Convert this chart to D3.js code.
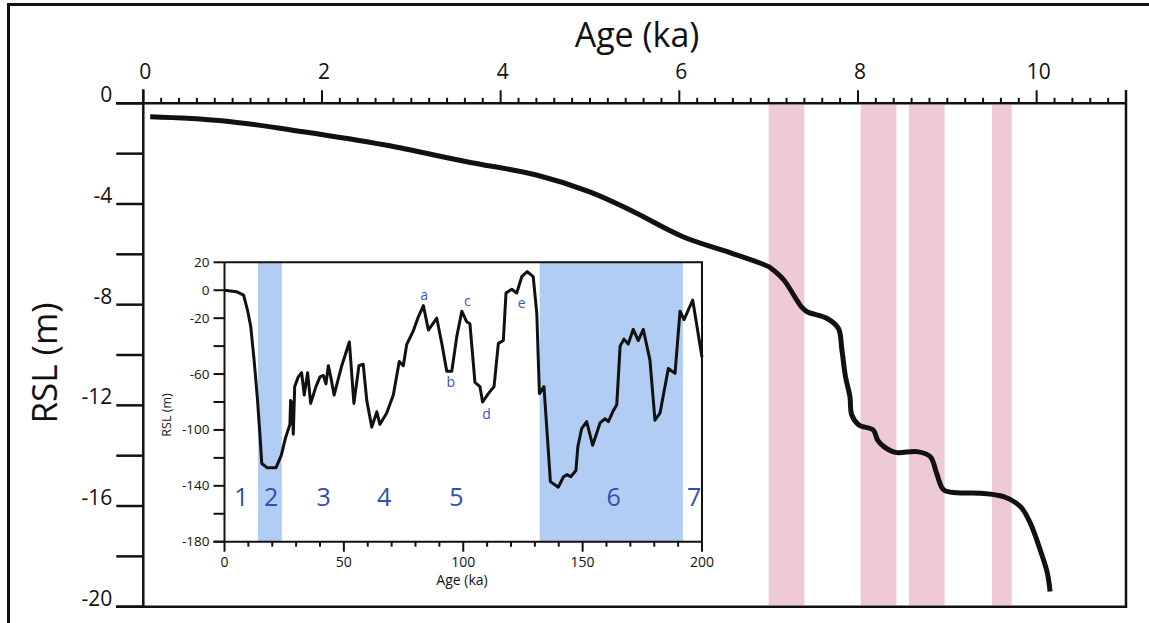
<!DOCTYPE html>
<html>
<head>
<meta charset="utf-8">
<script src="https://cdn.jsdelivr.net/npm/d3@7"></script>
<style>
  body { margin: 0; background: #fff; }
  svg { display: block; font-family: "Open Sans", sans-serif; }
</style>
</head>
<body>
<svg id="chart" width="1149" height="623"></svg>
<script>
// ---- Holocene relative sea level (main panel) ----
const rslAge   = [0.077, 0.88, 1.79, 2.71, 3.62, 4.40, 4.99, 5.45, 6.04, 6.59, 7.00, 7.05, 7.17, 7.37, 7.43, 7.65, 7.78, 7.82, 7.86, 7.91, 7.93, 8.01, 8.17, 8.22, 8.29, 8.42, 8.66, 8.81, 8.88, 8.96, 9.11, 9.37, 9.63, 9.82, 9.93, 10.04, 10.12, 10.15];
const rslDepth = [-0.53, -0.69, -1.13, -1.66, -2.32, -2.85, -3.51, -4.24, -5.30, -5.96, -6.49, -6.62, -7.02, -8.10, -8.28, -8.54, -8.94, -9.80, -10.86, -11.66, -12.38, -12.78, -12.98, -13.38, -13.64, -13.87, -13.84, -14.04, -14.70, -15.36, -15.47, -15.49, -15.63, -16.03, -16.69, -17.75, -18.67, -19.40];

// shaded intervals (ka)
const bandStart = [7.0, 8.03, 8.57, 9.5];
const bandEnd   = [7.4, 8.43, 8.97, 9.72];

const mainAgeTicks = [0, 2, 4, 6, 8, 10];
const mainRslTicks = [0, -4, -8, -12, -16, -20];

// ---- Inset: sea level over the last 200 ka ----
const insetAge = [0, 5, 8, 9.6, 11, 12.4, 13.8, 14.9, 15.6, 17.8, 21.6, 23.8, 25.5, 27.4, 27.7, 28.4, 28.8, 29.4, 30.9, 32.3, 33.4, 34.8, 36.1, 38.3, 40, 41.4, 42.5, 43.5, 44.5, 45.9, 49.1, 52.3, 54.2, 56.3, 58.1, 59.6, 61.7, 63.8, 65.1, 67.9, 70.7, 73.2, 74.9, 76.3, 79.1, 81.2, 83.3, 85.4, 88.9, 91, 93.1, 95.2, 97.3, 99.4, 101.4, 102.8, 104.9, 107, 108.1, 110.5, 112.9, 114.7, 116.8, 117.9, 120.3, 122.4, 124.5, 126.8, 129.3, 130.8, 131.9, 133.8, 135.6, 136.5, 139.8, 142, 143.5, 145, 147.2, 148, 149.6, 151.7, 154.2, 157.3, 159.4, 160.8, 162.9, 164.3, 165.7, 167.3, 169.1, 171.2, 173.3, 175.4, 178.2, 180.3, 182.4, 185.9, 188.7, 190.8, 192.5, 196.1, 200];
const insetRsl = [0, -1, -3.5, -14, -26, -50, -78, -105, -124, -127, -127, -118, -106, -96, -79, -81, -103, -69, -62, -59, -75, -59, -81, -69, -62, -61, -67, -54, -62, -75, -54, -37, -81, -54, -53, -79, -98, -87, -96, -88, -75, -51, -54, -39, -29, -19, -11, -28.5, -20, -38, -58, -58, -33, -15, -22.5, -24, -66, -69, -80, -74, -69, -38, -36, -2, 0.7, -2, 9.7, 13.3, 9.7, -16.5, -74, -69, -114, -137, -141, -133.5, -132, -133.5, -129, -112, -99, -94, -111, -95, -92, -94, -86, -82, -40, -35, -38.5, -28, -36, -28, -50, -93, -88, -56, -59.5, -15, -21, -7, -48];

// glacial stages shaded in the inset (ka)
const glacialStart = [14, 132];
const glacialEnd   = [24, 192];

// marine isotope stage numbers
const stageLabels = ["1", "2", "3", "4", "5", "6", "7"];
const stageAge    = [7.1, 19.5, 41.5, 66.9, 97.1, 163, 196.7];

// named highstands / lowstands of stage 5
const peakLabels = ["a", "b", "c", "d", "e"];
const peakAge    = [83.6, 94.8, 101.7, 109.8, 124.5];
const peakRsl    = [-3.3, -65.5, -7, -88, -9];

const insetAgeTicks = [0, 50, 100, 150, 200];
const insetRslTicks = [20, 0, -20, -60, -100, -140, -180];

// ---------------------------------------------------------------
const svg = d3.select("#chart");
const ink = "#111";

// outer frame (top and left edges)
svg.append("line").attr("x1", 8).attr("x2", 1149).attr("y1", 4.5).attr("y2", 4.5)
  .attr("stroke", ink).attr("stroke-width", 3);
svg.append("line").attr("x1", 8.5).attr("x2", 8.5).attr("y1", 3).attr("y2", 623)
  .attr("stroke", ink).attr("stroke-width", 3);

// main scales
const x = d3.scaleLinear().domain([0, 11]).range([143.3, 1126]);
const y = d3.scaleLinear().domain([0, -20]).range([103.3, 606.7]);

// shaded bands
svg.append("g").selectAll("rect").data(bandStart).join("rect")
  .attr("x", (d) => x(d))
  .attr("width", (d, i) => x(bandEnd[i]) - x(d))
  .attr("y", y(0) + 1.5)
  .attr("height", y(-20) - y(0) - 3)
  .attr("fill", "#eecad6");

// box: bottom and right
svg.append("line").attr("x1", 116).attr("x2", x(11)).attr("y1", y(-20)).attr("y2", y(-20))
  .attr("stroke", ink).attr("stroke-width", 2.5);
svg.append("line").attr("x1", x(11)).attr("x2", x(11)).attr("y1", 90).attr("y2", y(-20) + 1.2)
  .attr("stroke", ink).attr("stroke-width", 2.5);

// top age axis
const gTop = svg.append("g").attr("transform", `translate(0,${y(0)})`);
gTop.append("line").attr("x1", 116).attr("x2", x(11)).attr("stroke", ink).attr("stroke-width", 2.5);
const minorAges = d3.range(0, 56).map((i) => i * 0.2);
gTop.selectAll("line.minor").data(minorAges).join("line").attr("class", "minor")
  .attr("x1", (d) => x(d)).attr("x2", (d) => x(d))
  .attr("y1", 0)
  .attr("y2", (d) => (Math.abs(d % 2) < 1e-6 || Math.abs(d - 11) < 1e-6) ? -13 : -5.5)
  .attr("stroke", ink).attr("stroke-width", 2);
gTop.selectAll("text").data(mainAgeTicks).join("text")
  .attr("x", (d) => x(d) + 2).attr("y", -24)
  .attr("text-anchor", "middle").attr("font-size", 21).attr("fill", ink)
  .text((d) => d);
svg.append("text").attr("x", 637).attr("y", 47).attr("text-anchor", "middle")
  .attr("font-size", 34).attr("fill", ink).text("Age (ka)");

// left RSL axis
const gLeft = svg.append("g").attr("transform", `translate(${x(0)},0)`);
gLeft.append("line").attr("y1", y(0) - 14).attr("y2", y(-20)).attr("stroke", ink).attr("stroke-width", 2.5);
gLeft.selectAll("line.tick").data(d3.range(0, -21, -2)).join("line").attr("class", "tick")
  .attr("x1", -27).attr("x2", 0).attr("y1", (d) => y(d)).attr("y2", (d) => y(d))
  .attr("stroke", ink).attr("stroke-width", 2.5);
gLeft.selectAll("text").data(mainRslTicks).join("text")
  .attr("x", -31).attr("y", (d) => y(d) - 1)
  .attr("text-anchor", "end").attr("font-size", 21).attr("fill", ink)
  .text((d) => d);
svg.append("text").attr("transform", "translate(57,363) rotate(-90)")
  .attr("text-anchor", "middle").attr("font-size", 35).attr("fill", ink).text("RSL (m)");

// main curve
const mainLine = d3.line().x((d, i) => x(rslAge[i])).y((d, i) => y(rslDepth[i]))
  .curve(d3.curveCatmullRom.alpha(0.5));
svg.append("path").attr("d", mainLine(rslAge))
  .attr("fill", "none").attr("stroke", ink).attr("stroke-width", 5)
  .attr("stroke-linejoin", "round").attr("stroke-linecap", "butt");

// ---------------- inset ----------------
const ix = d3.scaleLinear().domain([0, 200]).range([224.5, 702]);
const iy = d3.scaleLinear().domain([20, -180]).range([262.3, 541.7]);
const inset = svg.append("g");

inset.append("rect").attr("x", ix(0)).attr("y", iy(20)).attr("width", ix(200) - ix(0))
  .attr("height", iy(-180) - iy(20)).attr("fill", "#fff");

inset.selectAll("rect.glacial").data(glacialStart).join("rect").attr("class", "glacial")
  .attr("x", (d) => ix(d)).attr("width", (d, i) => ix(glacialEnd[i]) - ix(d))
  .attr("y", iy(20)).attr("height", iy(-180) - iy(20))
  .attr("fill", "#b2cdf3");

// frame
inset.append("path")
  .attr("d", `M${ix(0)},${iy(20)}H${ix(200)}V${iy(-180)}`)
  .attr("fill", "none").attr("stroke", ink).attr("stroke-width", 2);

// inset y axis
inset.append("line").attr("x1", ix(0)).attr("x2", ix(0)).attr("y1", iy(20)).attr("y2", iy(-180))
  .attr("stroke", ink).attr("stroke-width", 2);
inset.selectAll("line.ytick").data(d3.range(20, -181, -20)).join("line").attr("class", "ytick")
  .attr("x1", ix(0) - 11).attr("x2", ix(0)).attr("y1", (d) => iy(d)).attr("y2", (d) => iy(d))
  .attr("stroke", ink).attr("stroke-width", 2);
inset.selectAll("text.ylab").data(insetRslTicks).join("text").attr("class", "ylab")
  .attr("x", ix(0) - 15).attr("y", (d) => iy(d) + 4.5)
  .attr("text-anchor", "end").attr("font-size", 13.5).attr("fill", ink).text((d) => d);
inset.append("text").attr("transform", "translate(171,415) rotate(-90)")
  .attr("text-anchor", "middle").attr("font-size", 12.5).attr("fill", ink).text("RSL (m)");

// inset x axis
inset.append("line").attr("x1", ix(0) - 11).attr("x2", ix(200)).attr("y1", iy(-180)).attr("y2", iy(-180))
  .attr("stroke", ink).attr("stroke-width", 2);
inset.selectAll("line.xtick").data(d3.range(0, 201, 10)).join("line").attr("class", "xtick")
  .attr("x1", (d) => ix(d)).attr("x2", (d) => ix(d))
  .attr("y1", iy(-180)).attr("y2", (d) => iy(-180) + (d % 50 === 0 ? 10 : 5))
  .attr("stroke", ink).attr("stroke-width", 2);
inset.selectAll("text.xlab").data(insetAgeTicks).join("text").attr("class", "xlab")
  .attr("x", (d) => ix(d)).attr("y", iy(-180) + 25)
  .attr("text-anchor", "middle").attr("font-size", 14).attr("fill", ink).text((d) => d);
inset.append("text").attr("x", 462).attr("y", 585).attr("text-anchor", "middle")
  .attr("font-size", 14).attr("fill", ink).text("Age (ka)");

// inset curve
const insetLine = d3.line().x((d, i) => ix(insetAge[i])).y((d, i) => iy(insetRsl[i]));
inset.append("path").attr("d", insetLine(insetAge))
  .attr("fill", "none").attr("stroke", ink).attr("stroke-width", 3)
  .attr("stroke-linejoin", "round");

// stage numbers
inset.selectAll("text.stage").data(stageLabels).join("text").attr("class", "stage")
  .attr("x", (d, i) => ix(stageAge[i])).attr("y", iy(-148) + 9)
  .attr("text-anchor", "middle").attr("font-size", 25).attr("fill", "#2f4fb4").text((d) => d);

// stage 5 sub-stage letters
inset.selectAll("text.peak").data(peakLabels).join("text").attr("class", "peak")
  .attr("x", (d, i) => ix(peakAge[i])).attr("y", (d, i) => iy(peakRsl[i]))
  .attr("dominant-baseline", "central")
  .attr("text-anchor", "middle").attr("font-size", 14).attr("fill", "#3a55c0").text((d) => d);
</script>
</body>
</html>
